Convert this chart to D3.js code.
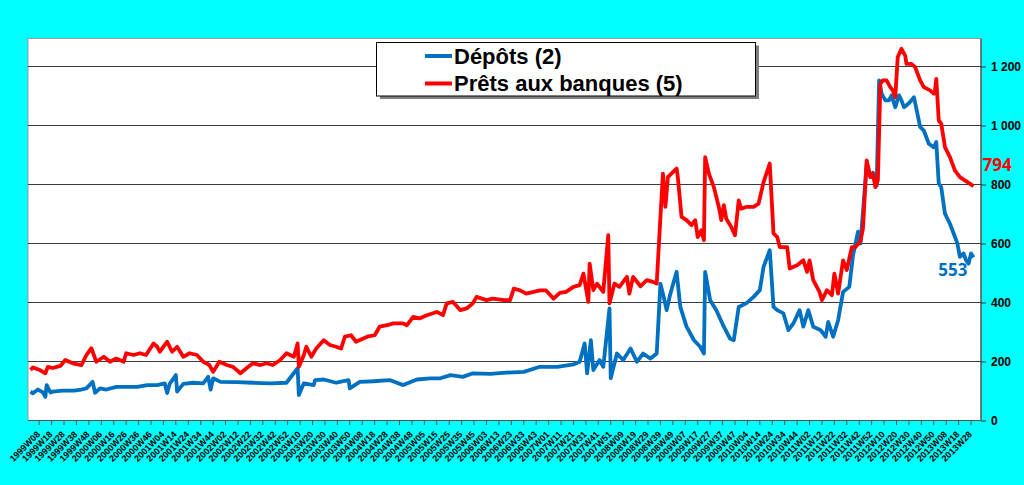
<!DOCTYPE html>
<html>
<head>
<meta charset="utf-8">
<script src="https://cdn.jsdelivr.net/npm/d3@7"></script>
<style>
html,body{margin:0;padding:0;background:#00FFFF;}
svg{display:block;}
</style>
</head>
<body>
<svg id="chart" width="1024" height="485"></svg>
<script>
// ---- Data (week index counted from 1999W01 = 0) ----
const tickLabels = ["1999W08","1999W18","1999W28","1999W38","1999W48","2000W06","2000W16","2000W26","2000W36","2000W46",
"2001W04","2001W14","2001W24","2001W34","2001W44","2002W02","2002W12","2002W22","2002W32","2002W42","2002W52",
"2003W10","2003W20","2003W30","2003W40","2003W50","2004W08","2004W18","2004W28","2004W38","2004W48",
"2005W05","2005W15","2005W25","2005W35","2005W45","2006W03","2006W13","2006W23","2006W33","2006W43",
"2007W01","2007W11","2007W21","2007W31","2007W41","2007W51","2008W09","2008W19","2008W29","2008W39","2008W49",
"2009W07","2009W17","2009W27","2009W37","2009W47","2010W04","2010W14","2010W24","2010W34","2010W44",
"2011W02","2011W12","2011W22","2011W32","2011W42","2011W52","2012W10","2012W20","2012W30","2012W40","2012W50",
"2013W08","2013W18","2013W28"];
const tickFirstWeek = 7;
const tickEveryWeeks = 10;

const pretsWeeks = [0,2,8,12,14,18,24,28,34,41,45,49,53,59,64,69,75,77,83,88,93,99,102,104,110,114,118,123,128,134,139,144,147,152,158,163,169,174,179,185,190,195,201,206,212,215,216,220,222,226,230,236,241,246,250,253,258,262,271,277,281,287,292,300,303,308,313,319,327,332,335,340,346,351,356,359,367,372,381,386,389,394,399,405,410,415,421,426,431,437,442,445,449,450,453,456,461,465,466,470,474,480,482,485,491,496,501,504,507,509,511,513,517,520,521,524,528,532,535,537,540,542,543,546,550,554,556,558,560,564,567,570,572,576,582,586,590,595,598,601,603,609,611,617,622,625,627,630,635,637,641,645,647,650,654,657,661,664,668,670,673,676,678,680,682,684,686,689,692,694,696,698,701,704,705,709,712,716,719,724,727,728,729,731,733,736,740,744,748,752,756,759];
const pretsValues = [172,180,170,160,182,178,185,205,194,188,222,245,199,216,199,210,199,228,222,228,222,261,250,233,267,233,250,216,228,222,199,188,165,199,188,182,160,178,194,188,194,188,205,228,216,261,182,222,250,216,244,272,256,250,244,284,289,267,284,289,318,323,329,329,323,351,346,357,368,357,397,402,374,380,397,419,408,413,408,408,447,441,430,436,441,441,413,433,436,453,459,498,402,532,442,464,436,628,397,464,453,487,430,487,455,476,470,464,690,837,724,825,842,854,825,690,679,662,679,622,645,611,893,837,791,724,679,730,684,656,628,746,718,724,724,735,808,871,634,622,588,588,515,526,543,504,543,476,436,408,442,425,498,430,543,510,588,588,608,651,882,825,837,791,814,1141,1153,1153,1130,1119,1096,1232,1260,1237,1209,1209,1198,1153,1130,1119,1108,1119,1158,1017,1006,927,893,848,825,814,803,794];

const depotsWeeks = [0,2,6,10,12,13,16,18,26,35,41,45,50,52,56,61,69,77,86,94,102,108,110,112,117,118,123,131,139,143,145,147,153,166,179,193,206,215,216,220,228,229,236,246,249,256,257,265,276,289,300,311,322,330,338,348,356,370,383,397,410,424,437,442,446,448,451,453,458,461,466,467,472,477,483,488,493,499,504,507,509,512,515,520,523,528,534,539,542,543,547,552,558,563,566,570,576,582,587,590,595,598,601,606,610,614,619,622,626,630,636,640,642,646,650,654,659,662,666,668,670,673,676,678,681,683,685,688,691,693,696,699,701,703,705,708,711,713,716,719,723,727,729,731,733,736,740,743,746,748,751,753,755,757,759];
const depotsValues = [98,92,105,95,80,120,95,98,101,101,105,109,131,94,109,105,114,114,114,120,120,126,93,124,154,98,124,128,126,148,105,143,131,130,128,126,128,177,86,126,120,137,139,128,131,137,109,131,133,137,120,139,143,143,154,148,160,158,162,165,182,182,190,199,261,160,272,171,205,182,380,143,227,205,244,199,227,210,227,464,430,374,430,504,385,318,272,250,227,504,408,374,318,278,272,385,397,419,442,521,577,385,374,363,306,329,374,318,374,318,306,284,334,284,340,436,453,560,640,600,707,870,825,840,796,1153,1108,1085,1085,1102,1062,1102,1085,1062,1068,1080,1096,1057,995,983,938,926,944,803,791,701,667,634,600,555,566,543,532,566,553];

const yTicks = [0,200,400,600,800,1000,1200];
const seriesNames = ["Dépôts (2)", "Prêts aux banques (5)"];
const seriesColors = ["#0070C0", "#FF0000"];

// ---- Layout ----
const svg = d3.select("#chart");
const plot = {left: 28, right: 981, top: 38.5, bottom: 420.5};

const x = d3.scaleLinear().domain([-2, 765]).range([plot.left, plot.right]);
const y = d3.scaleLinear().domain([0, 1200]).range([420.5, 66.5]);

// plot area
svg.append("rect")
  .attr("x", plot.left).attr("y", plot.top)
  .attr("width", plot.right - plot.left).attr("height", plot.bottom - plot.top)
  .attr("fill", "#FFFFFF").attr("stroke", "#9a9a9a").attr("stroke-width", 1);

// gridlines
svg.append("g").selectAll("line").data(yTicks.filter(d => d > 0)).join("line")
  .attr("x1", plot.left).attr("x2", plot.right)
  .attr("y1", d => y(d)).attr("y2", d => y(d))
  .attr("stroke", "#3a3a3a").attr("stroke-width", 1.2);

// right axis
const fr = d3.formatLocale({decimal: ",", thousands: " ", grouping: [3], currency: ["", "€"]});
const yAxis = d3.axisRight(y).tickValues(yTicks).tickFormat(fr.format(",")).tickSize(5).tickPadding(5);
const ya = svg.append("g").attr("transform", `translate(${plot.right},0)`).call(yAxis);
ya.select(".domain").attr("d", `M0,${plot.top}V${plot.bottom}`).attr("stroke", "#333");
ya.selectAll(".tick line").attr("stroke", "#333");
ya.selectAll("text").attr("font-family", "Liberation Sans, Arial, sans-serif")
  .attr("font-size", 12).attr("font-weight", "bold").attr("fill", "#000");

// x axis
const tickWeeks = tickLabels.map((_, k) => tickFirstWeek + k * tickEveryWeeks);
const xAxisG = svg.append("g");
xAxisG.append("line").attr("x1", plot.left).attr("x2", plot.right)
  .attr("y1", plot.bottom).attr("y2", plot.bottom).attr("stroke", "#555").attr("stroke-width", 1);
xAxisG.selectAll("line.tk").data(tickWeeks).join("line").attr("class", "tk")
  .attr("x1", d => x(d)).attr("x2", d => x(d))
  .attr("y1", plot.bottom).attr("y2", plot.bottom + 4.5)
  .attr("stroke", "#555").attr("stroke-width", 1);
xAxisG.selectAll("text").data(tickLabels).join("text")
  .attr("transform", (d, k) => `translate(${x(tickWeeks[k]) + 1.5},${plot.bottom + 14.5}) rotate(-45)`)
  .attr("text-anchor", "end")
  .attr("font-family", "Liberation Sans, Arial, sans-serif")
  .attr("font-size", 9).attr("font-weight", "bold").attr("fill", "#000")
  .text(d => d);

// lines
const line = d3.line().x(d => x(d[0])).y(d => y(d[1])).curve(d3.curveLinear);
const depots = depotsWeeks.map((w, i) => [w, depotsValues[i]]);
const prets = pretsWeeks.map((w, i) => [w, pretsValues[i]]);

svg.append("path").datum(depots).attr("d", line)
  .attr("fill", "none").attr("stroke", seriesColors[0]).attr("stroke-width", 3.8)
  .attr("stroke-linejoin", "round");
svg.append("path").datum(prets).attr("d", line)
  .attr("fill", "none").attr("stroke", seriesColors[1]).attr("stroke-width", 3.8)
  .attr("stroke-linejoin", "round");

// end value labels
const lastD = depots[depots.length - 1], lastP = prets[prets.length - 1];
svg.append("text").attr("x", x(lastD[0]) - 6).attr("y", y(lastD[1]) + 19)
  .attr("text-anchor", "end").attr("font-family", "Open Sans, sans-serif")
  .attr("font-size", 17).attr("font-weight", "bold").attr("fill", seriesColors[0])
  .text(lastD[1]);
svg.append("text").attr("x", x(lastP[0]) + 9).attr("y", y(lastP[1]) - 15)
  .attr("text-anchor", "start").attr("font-family", "Open Sans, sans-serif")
  .attr("font-size", 17).attr("font-weight", "bold").attr("fill", seriesColors[1])
  .text(lastP[1]);

// legend
const lg = svg.append("g");
lg.append("rect").attr("x", 380).attr("y", 45.5).attr("width", 379).attr("height", 53.5).attr("fill", "#7f7f7f");
lg.append("rect").attr("x", 376.5).attr("y", 42.5).attr("width", 379).attr("height", 53.5)
  .attr("fill", "#FFFFFF").attr("stroke", "#000").attr("stroke-width", 1);
seriesNames.forEach((name, i) => {
  const ly = 56 + i * 27.5;
  lg.append("line").attr("x1", 425).attr("x2", 452).attr("y1", ly).attr("y2", ly)
    .attr("stroke", seriesColors[i]).attr("stroke-width", 4);
  lg.append("text").attr("x", 454).attr("y", ly + 7.8)
    .attr("font-family", "Liberation Sans, Arial, sans-serif")
    .attr("font-size", 22).attr("font-weight", "bold").attr("fill", "#000")
    .text(name);
});
</script>
</body>
</html>
